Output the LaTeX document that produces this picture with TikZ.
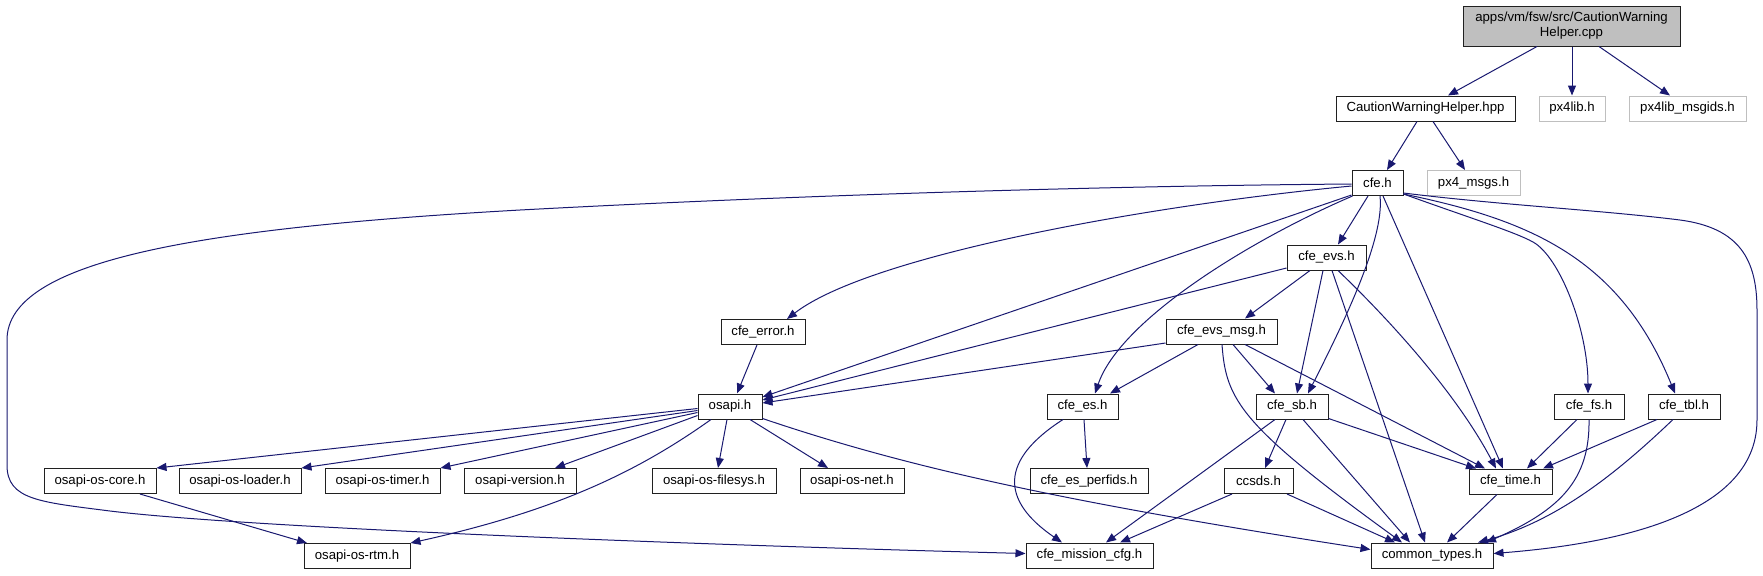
\documentclass[tikz,border=0pt]{standalone}
\usepackage{fontspec}
\setmainfont{Liberation Sans}
\usetikzlibrary{arrows.meta,calc}
\definecolor{eb}{HTML}{191970}
\definecolor{gb}{HTML}{BFBFBF}
\definecolor{bd}{HTML}{202020}
\tikzset{
  nd/.style={draw=bd, line width=0.5pt, fill=white, inner sep=0pt, minimum height=12.5pt,
    font=\fontsize{6.6}{7.5}\selectfont, anchor=center},
  gnd/.style={nd, draw=gb},
  e/.style={draw=eb, line width=0.5pt, -{Triangle[length=5pt,width=4pt]}}
}
\begin{document}
\begin{tikzpicture}[x=0.5pt,y=-0.5pt]
\useasboundingbox (0,0) rectangle (1763,575);
% nodes
\node[nd, fill=gb, minimum width=108.5pt, minimum height=20pt, align=center] (main) at (1571.5,26) {apps/vm/fsw/src/CautionWarning\\Helper.cpp};
\node[nd, minimum width=89.5pt] (cwh) at (1425.5,108.5) {CautionWarningHelper.hpp};
\node[gnd, minimum width=33pt] (px4lib) at (1572,108.5) {px4lib.h};
\node[gnd, minimum width=58.5pt] (msgids) at (1687.5,108.5) {px4lib\_msgids.h};
\node[nd, minimum width=25.5pt] (cfe) at (1377.5,183) {cfe.h};
\node[gnd, minimum width=46.5pt] (px4msgs) at (1473.5,183) {px4\_msgs.h};
\node[nd, minimum width=39.5pt] (evs) at (1326.5,257.5) {cfe\_evs.h};
\node[nd, minimum width=42pt] (err) at (763,332) {cfe\_error.h};
\node[nd, minimum width=55.5pt] (evsmsg) at (1221.5,331.5) {cfe\_evs\_msg.h};
\node[nd, minimum width=32pt] (osapi) at (730,406.5) {osapi.h};
\node[nd, minimum width=35.5pt] (es) at (1082.5,406.5) {cfe\_es.h};
\node[nd, minimum width=36pt] (sb) at (1292,406.5) {cfe\_sb.h};
\node[nd, minimum width=35pt] (fs) at (1589,406.5) {cfe\_fs.h};
\node[nd, minimum width=36pt] (tbl) at (1684,406.5) {cfe\_tbl.h};
\node[nd, minimum width=56pt] (core) at (100,481) {osapi-os-core.h};
\node[nd, minimum width=61pt] (loader) at (240,481) {osapi-os-loader.h};
\node[nd, minimum width=57.5pt] (timer) at (382.5,481) {osapi-os-timer.h};
\node[nd, minimum width=56pt] (version) at (520,481) {osapi-version.h};
\node[nd, minimum width=62pt] (filesys) at (714,481) {osapi-os-filesys.h};
\node[nd, minimum width=52pt] (net) at (852,481) {osapi-os-net.h};
\node[nd, minimum width=59pt] (perfids) at (1089,481) {cfe\_es\_perfids.h};
\node[nd, minimum width=34.5pt] (ccsds) at (1258.5,481) {ccsds.h};
\node[nd, minimum width=41.5pt] (time) at (1510.5,481.5) {cfe\_time.h};
\node[nd, minimum width=53pt] (rtm) at (357,556) {osapi-os-rtm.h};
\node[nd, minimum width=63.5pt] (mcfg) at (1089.5,555.5) {cfe\_mission\_cfg.h};
\node[nd, minimum width=61pt] (ct) at (1432,555.5) {common\_types.h};
% edges
\draw[e] ($(main.south)+(-34.5,0)$) -- ($(cwh.north)+(22.5,0)$);
\draw[e] ($(main.south)+(0.5,0)$) -- (px4lib.north);
\draw[e] ($(main.south)+(27.5,0)$) -- ($(msgids.north)+(-17.5,0)$);
\draw[e] ($(cwh.south)+(-8.5,0)$) -- ($(cfe.north)+(9.5,0)$);
\draw[e] ($(cwh.south)+(7.5,0)$) -- ($(px4msgs.north)+(-8.5,0)$);
\draw[e] ($(cfe.south)+(-9.5,0)$) -- ($(evs.north)+(11.5,0)$);
\draw[e] ($(cfe.south)+(2.5,0)$) .. controls (1385,240) and (1340,330) .. ($(sb.north)+(16,0)$);
\draw[e] ($(cfe.south)+(5.5,0)$) -- ($(time.north)+(-7.5,0)$);
\draw[e] ($(cfe.south east)+(0,-2)$) .. controls (1470,218) and (1515,232) .. (1533,242) .. controls (1560,257) and (1588,330) .. ($(fs.north)+(-1,0)$);
\draw[e] ($(cfe.south east)+(0,-2)$) .. controls (1530,220) and (1620,258) .. ($(tbl.north)+(-9,0)$);
\draw[e] ($(cfe.south east)+(0,-3)$) .. controls (1500,205) and (1600,210) .. (1680,220) .. controls (1740,228) and (1757,260) .. (1757,310) -- (1757,420) .. controls (1757,520) and (1600,545) .. ($(ct.east)+(0,-2)$);
\draw[e] ($(cfe.south west)+(1,0)$) .. controls (1250,240) and (1120,320) .. ($(es.north)+(12.5,0)$);
\draw[e] ($(cfe.south west)+(0,-1)$) -- ($(osapi.east)+(0,-9.5)$);
\draw[e] ($(cfe.west)+(0,3)$) .. controls (1150,205) and (870,255) .. ($(err.north)+(24,0)$);
\draw[e] ($(cfe.west)+(0,1)$) .. controls (1100,186) and (800,195) .. (520,210) .. controls (200,228) and (7,260) .. (7,340) -- (7,465) .. controls (7,500) and (40,502) .. (110,511) .. controls (250,528) and (700,545) .. ($(mcfg.west)+(0,-2)$);
\draw[e] ($(evs.south)+(-16.5,0)$) -- ($(evsmsg.north)+(23.5,0)$);
\draw[e] ($(evs.west)+(0,10.5)$) -- ($(osapi.east)+(0,-6.5)$);
\draw[e] ($(evs.south)+(-3.5,0)$) -- ($(sb.north)+(5,0)$);
\draw[e] ($(evs.south)+(5.5,0)$) -- ($(ct.north)+(-7,0)$);
\draw[e] ($(evs.south)+(11.5,0)$) .. controls (1400,330) and (1460,400) .. ($(time.north)+(-14.5,0)$);
\draw[e] ($(evsmsg.west)+(0,11.5)$) -- ($(osapi.east)+(0,-3.5)$);
\draw[e] ($(evsmsg.south)+(-23.5,0)$) -- ($(es.north)+(27.5,0)$);
\draw[e] ($(evsmsg.south)+(11.5,0)$) -- ($(sb.north)+(-17,0)$);
\draw[e] ($(evsmsg.south)+(0.5,0)$) .. controls (1226,400) and (1240,425) .. ($(ct.north)+(-30,0)$);
\draw[e] ($(evsmsg.south)+(23.5,0)$) -- ($(time.north)+(-25.5,0)$);
\draw[e] ($(err.south)+(-6,0)$) -- ($(osapi.north)+(7,0)$);
\draw[e] ($(osapi.west)+(0,2)$) -- (core.north east);
\draw[e] ($(osapi.west)+(0,4)$) -- (loader.north east);
\draw[e] ($(osapi.west)+(0,6)$) -- (timer.north east);
\draw[e] ($(osapi.west)+(0,9)$) -- ($(version.north)+(35,0)$);
\draw[e] ($(osapi.south)+(-19,0)$) .. controls (640,470) and (560,510) .. (rtm.north east);
\draw[e] ($(osapi.south)+(-3,0)$) -- ($(filesys.north)+(4,0)$);
\draw[e] ($(osapi.south)+(20,0)$) -- ($(net.north)+(-24,0)$);
\draw[e] ($(osapi.south east)+(0,-1)$) .. controls (900,465) and (1050,500) .. ($(ct.west)+(0,-6)$);
\draw[e] ($(core.south)+(40,0)$) -- ($(rtm.north)+(-50,0)$);
\draw[e] ($(es.south)+(1.5,0)$) -- ($(perfids.north)+(-2,0)$);
\draw[e] ($(es.south)+(-19.5,0)$) .. controls (1000,460) and (1000,500) .. ($(mcfg.north)+(-27.5,0)$);
\draw[e] ($(sb.south)+(-17,0)$) -- ($(mcfg.north)+(16.5,0)$);
\draw[e] ($(sb.south)+(-6,0)$) -- ($(ccsds.north)+(6.5,0)$);
\draw[e] ($(sb.south)+(11,0)$) -- ($(ct.north)+(-22,0)$);
\draw[e] ($(sb.south east)+(0,-1)$) -- ($(time.north)+(-34.5,0)$);
\draw[e] ($(ccsds.south)+(-26.5,0)$) -- ($(mcfg.north)+(30.5,0)$);
\draw[e] ($(ccsds.south)+(28.5,0)$) -- ($(ct.north)+(-37,0)$);
\draw[e] ($(time.south)+(-13.5,0)$) -- ($(ct.north)+(15,0)$);
\draw[e] ($(fs.south)+(-12,0)$) -- ($(time.north)+(16.5,0)$);
\draw[e] (fs.south) .. controls (1590,480) and (1560,510) .. ($(ct.north)+(54,0)$);
\draw[e] ($(tbl.south)+(-27,0)$) -- ($(time.north)+(32.5,0)$);
\draw[e] ($(tbl.south)+(-11,0)$) .. controls (1620,470) and (1560,520) .. ($(ct.north)+(46,0)$);
\end{tikzpicture}
\end{document}
